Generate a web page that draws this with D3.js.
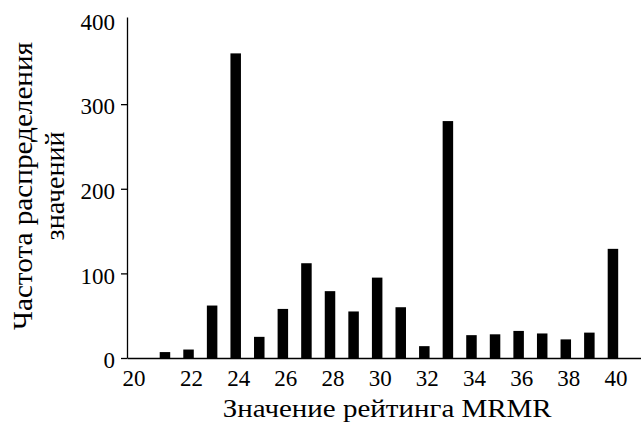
<!DOCTYPE html>
<html>
<head>
<meta charset="utf-8">
<script src="https://cdn.jsdelivr.net/npm/d3@7"></script>
<style>
    body { margin: 0; background: #fff; }
    svg text { font-family: "Liberation Serif", "Times New Roman", serif; fill: #000; }
</style>
</head>
<body>
<div id="main"></div>
<script>
// MRMR rating values (x) and their counts (bar heights)
const ratings = [21, 22, 23, 24, 25, 26, 27, 28, 29, 30, 31, 32, 33, 34, 35, 36, 37, 38, 39, 40];
const counts = [7, 10, 62, 360, 25, 58, 112, 79, 55, 95, 60, 14, 280, 27, 28, 32, 29, 22, 30, 129];
const xTicks = [20, 22, 24, 26, 28, 30, 32, 34, 36, 38, 40];
const yTicks = [0, 100, 200, 300, 400];

const chartCtx = {
    WIDTH: 641,
    HEIGHT: 423,
    LEFT: 127,
    RIGHT: 641,
    TOP: 17,
    BOTTOM: 358,
    BAR_WIDTH: 10.5,
    TICK_FONT: "23px",
    X_TITLE_FONT: "26px",
    Y_TITLE_FONT: "28px"
};

function drawChart() {

    let svg = d3.select("#main").append("svg")
        .attr("width", chartCtx.WIDTH)
        .attr("height", chartCtx.HEIGHT);

    let x = d3.scaleLinear()
        .domain([19.39, 41.19])
        .range([chartCtx.LEFT, chartCtx.RIGHT]);

    let y = d3.scaleLinear()
        .domain([0, 403])
        .range([chartCtx.BOTTOM, chartCtx.TOP]);

    // bars
    svg.append("g")
        .selectAll("rect")
        .data(ratings)
        .enter()
        .append("rect")
        .attr("x", (d) => x(d) - chartCtx.BAR_WIDTH / 2)
        .attr("y", (d, i) => y(counts[i]))
        .attr("width", chartCtx.BAR_WIDTH)
        .attr("height", (d, i) => y(0) - y(counts[i]))
        .attr("fill", "#000");

    let xAxis = svg.append("g")
        .attr("transform", `translate(0,${chartCtx.BOTTOM})`)
        .call(d3.axisBottom(x).tickValues(xTicks).tickSize(0).tickPadding(12));

    let yAxis = svg.append("g")
        .attr("transform", `translate(${chartCtx.LEFT},0)`)
        .call(d3.axisLeft(y).tickValues(yTicks).tickSizeInner(6).tickSizeOuter(0).tickPadding(6));

    [xAxis, yAxis].forEach(function(g) {
        g.selectAll("path.domain").attr("stroke", "#000").attr("stroke-width", 1.3);
        g.selectAll("line").attr("stroke", "#000").attr("stroke-width", 1.3);
        g.selectAll("text")
            .attr("font-family", null)
            .style("font-size", chartCtx.TICK_FONT);
    });

    // labels sit a little right of the bars; the first one hugs the axis corner
    xAxis.selectAll("text").attr("dx", (d) => d === 20 ? -8 : 2.5);
    yAxis.selectAll("text").attr("dy", "0.42em");
    yAxis.selectAll(".tick line").filter((d) => d === 400).remove();

    // axis titles
    svg.append("text")
        .attr("x", 222.7)
        .attr("y", 416.5)
        .attr("textLength", 329)
        .attr("lengthAdjust", "spacingAndGlyphs")
        .style("font-size", chartCtx.X_TITLE_FONT)
        .text("Значение рейтинга MRMR");

    let yTitle = svg.append("text")
        .attr("transform", "translate(0,186) rotate(-90)")
        .attr("text-anchor", "middle")
        .style("font-size", chartCtx.Y_TITLE_FONT);

    yTitle.append("tspan").attr("x", 0).attr("y", 32)
        .attr("textLength", 288)
        .attr("lengthAdjust", "spacingAndGlyphs")
        .text("Частота распределения");
    yTitle.append("tspan").attr("x", 0).attr("y", 64).text("значений");
}

drawChart();
</script>
</body>
</html>
